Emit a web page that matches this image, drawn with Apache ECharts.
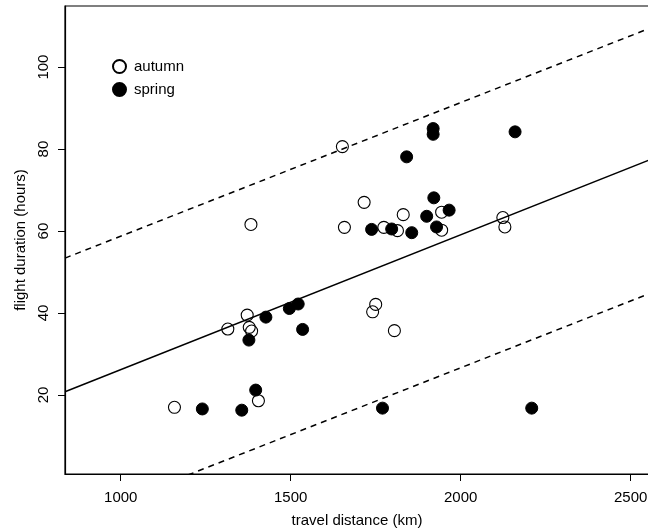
<!DOCTYPE html>
<html>
<head>
<meta charset="utf-8">
<script src="https://cdn.jsdelivr.net/npm/echarts@6/dist/echarts.min.js"></script>
<style>
  html, body { margin: 0; padding: 0; background: #fff; }
  #main { width: 648px; height: 529px; }
</style>
</head>
<body>
<div id="main"></div>
<script>
// travel distance (km), flight duration (hours)
var autumn = [
  [1158, 17.0], [1315, 36.1], [1372, 39.5], [1378, 36.5], [1385, 35.6],
  [1383, 61.6], [1405, 18.6], [1652, 80.6], [1658, 60.9], [1716, 67.0],
  [1750, 42.1], [1741, 40.3], [1774, 60.9], [1805, 35.7], [1814, 60.1],
  [1831, 64.0], [1944, 64.6], [1944, 60.2], [2124, 63.3], [2130, 61.0]
];
var spring = [
  [1240, 16.6], [1356, 16.3], [1377, 33.4], [1397, 21.2], [1427, 39.0],
  [1496, 41.1], [1522, 42.2], [1535, 36.0], [1738, 60.4], [1770, 16.8],
  [1797, 60.5], [1841, 78.1], [1856, 59.6], [1900, 63.6], [1919, 85.0],
  [1919, 83.6], [1921, 68.1], [1929, 61.0], [1966, 65.1], [2160, 84.2],
  [2209, 16.8]
];
// regression line and its prediction band (end points)
var fitLine = [[836, 20.8], [2554, 77.3]];
var upperBand = [[836, 53.4], [2554, 109.4]];
var lowerBand = [[836, -11.3], [2554, 44.7]];

var xTicks = [1000, 1500, 2000, 2500];
var yTicks = [20, 40, 60, 80, 100];

var font = 'Liberation Sans, Arial, Helvetica, sans-serif';

var chart = echarts.init(document.getElementById('main'));

var option = {
  animation: false,
  backgroundColor: '#fff',
  grid: {
    left: 65,
    top: 6,
    width: 584,
    height: 468,
    outerBoundsMode: 'none',
    containLabel: false,
    show: true,
    borderColor: '#000',
    borderWidth: 1.2
  },
  legend: {
    orient: 'vertical',
    left: 107,
    top: 54,
    itemWidth: 13,
    itemHeight: 13,
    itemGap: 8,
    data: ['autumn', 'spring'],
    textStyle: { color: '#000', fontSize: 15, fontFamily: font, padding: [0, 0, 0, 3] }
  },
  xAxis: {
    type: 'value',
    min: 836,
    max: 2554,
    name: 'travel distance (km)',
    nameLocation: 'middle',
    nameGap: 39,
    nameTextStyle: { color: '#000', fontSize: 15, fontFamily: font },
    splitLine: { show: false },
    axisLine: { show: true, onZero: false, lineStyle: { color: '#000', width: 1.2 } },
    axisTick: { show: true, length: 7, customValues: xTicks, lineStyle: { color: '#000' } },
    axisLabel: {
      customValues: xTicks, color: '#000', fontSize: 15, fontFamily: font, margin: 16,
      formatter: function (v) { return String(v); }
    }
  },
  yAxis: {
    type: 'value',
    min: 0.73,
    max: 114.9,
    name: 'flight duration (hours)',
    nameLocation: 'middle',
    nameGap: 37,
    nameTextStyle: { color: '#000', fontSize: 15, fontFamily: font },
    splitLine: { show: false },
    axisLine: { show: true, onZero: false, lineStyle: { color: '#000', width: 1.2 } },
    axisTick: { show: true, length: 7, customValues: yTicks, lineStyle: { color: '#000' } },
    axisLabel: {
      customValues: yTicks, rotate: 90, color: '#000', fontSize: 15, fontFamily: font, margin: 14,
      formatter: function (v) { return String(v); }
    }
  },
  series: [
    {
      type: 'line',
      data: fitLine,
      showSymbol: false,
      silent: true,
      lineStyle: { color: '#000', width: 1.5 }
    },
    {
      type: 'line',
      data: upperBand,
      showSymbol: false,
      silent: true,
      lineStyle: { color: '#000', width: 1.5, type: [6, 5] }
    },
    {
      type: 'line',
      data: lowerBand,
      showSymbol: false,
      silent: true,
      lineStyle: { color: '#000', width: 1.5, type: [6, 5] }
    },
    {
      name: 'autumn',
      type: 'scatter',
      data: autumn,
      symbol: 'circle',
      symbolSize: 12,
      itemStyle: { color: 'rgba(255,255,255,0)', borderColor: '#000', borderWidth: 1.1, opacity: 1 }
    },
    {
      name: 'spring',
      type: 'scatter',
      data: spring,
      symbol: 'circle',
      symbolSize: 12,
      itemStyle: { color: '#000', borderColor: '#000', borderWidth: 1, opacity: 1 }
    }
  ]
};

chart.setOption(option);
</script>
</body>
</html>
